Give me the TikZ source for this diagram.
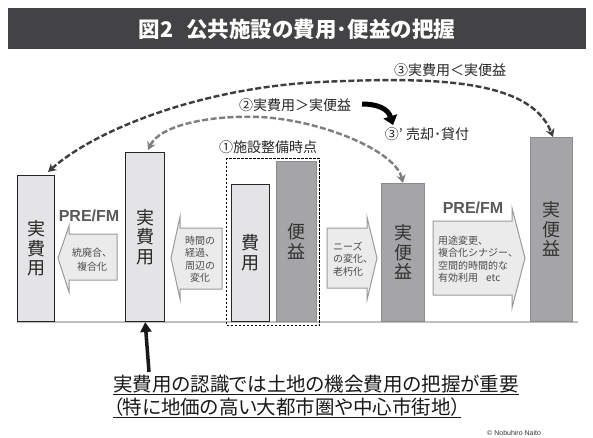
\documentclass[tikz,border=0pt]{standalone}
\usepackage{fontspec}
\newfontfamily\jp{Noto Sans CJK JP}
\newfontfamily\jpp{Noto Sans CJK JP}[RawFeature=+palt]
\newfontfamily\lsans{Liberation Sans}
\usetikzlibrary{arrows.meta}
\definecolor{titlebg}{HTML}{434345}
\definecolor{lightfill}{HTML}{E4E4E6}
\definecolor{darkfill}{HTML}{A5A5A8}
\definecolor{darkedge}{HTML}{8C8C8F}
\definecolor{arrfill}{HTML}{EBEBEC}
\definecolor{arredge}{HTML}{9A9A9C}
\definecolor{outercurve}{HTML}{3E3E40}
\definecolor{innercurve}{HTML}{7E7E80}
\begin{document}
\begin{tikzpicture}[x=1pt,y=-1pt,
  lbar/.style={draw=black!85, line width=1.3pt, fill=lightfill, anchor=south west, inner sep=0pt,
    font=\jp\fontsize{18}{19.5}\selectfont, align=center, text=black!85},
  dbar/.style={draw=darkedge, line width=1.3pt, fill=darkfill, anchor=south west, inner sep=0pt,
    font=\jp\fontsize{18}{19.5}\selectfont, align=center, text=black!80},
  blockarr/.style={draw=arredge, fill=arrfill, line width=1pt, line join=miter},
  arrtxt/.style={font=\jp\fontsize{10}{12.5}\selectfont, text=black!70, inner sep=0pt},
  lbl/.style={font=\jp\fontsize{14}{16}\selectfont, text=black!85, inner sep=0pt},
  prefm/.style={font=\lsans\bfseries\fontsize{16}{18}\selectfont, text=black!65, inner sep=0pt},
  dcurve/.style={line width=2.4pt, dash pattern=on 6pt off 2.5pt,
    {Stealth[length=8pt,width=9pt,inset=2.5pt]}-{Stealth[length=8pt,width=9pt,inset=2.5pt]}},
  bigtxt/.style={font=\jpp\fontsize{19.5}{23}\selectfont, text=black!90, inner sep=0pt, anchor=base west}
]
\useasboundingbox (0,0) rectangle (593,437);
\fill[white] (0,0) rectangle (593,437);

% title
\node[fill=titlebg, minimum width=578pt, minimum height=41pt, anchor=north west, inner sep=0pt] (titlebar) at (8,8) {};
\node[font=\jp\bfseries\fontsize{21.5}{24}\selectfont, text=white, inner sep=0pt] (title) at (297,29) {図2\hspace{0.6em}公共施設の費用･便益の把握};

% baseline
\coordinate (gl) at (17,322);
\coordinate (gr) at (578,322);
\draw[black!25, line width=1.5pt] (gl) -- (gr);

% dashed frame
\node[draw=black, line width=1pt, dash pattern=on 2.5pt off 1.5pt, minimum width=93pt, minimum height=167pt, anchor=north west, inner sep=0pt] (frame) at (226,158) {};

% bars
\node[lbar, minimum width=37pt, minimum height=146pt] (b1) at (17,322) {実\\費\\用};
\node[lbar, minimum width=39pt, minimum height=169pt] (b2) at (125,322) {実\\費\\用};
\node[lbar, minimum width=38pt, minimum height=137pt] (b3) at (231,322) {費\\用};
\node[dbar, minimum width=40pt, minimum height=160pt] (b4) at (276,322) {便\\益};
\node[dbar, minimum width=43pt, minimum height=138pt] (b5) at (381,322) {実\\便\\益};
\node[dbar, minimum width=42pt, minimum height=184pt] (b6) at (530,322) {実\\便\\益};

% block arrows
\draw[blockarr] (58,258) -- (69,226) -- (69,234) -- (117,234) -- (117,280) -- (69,280) -- (69,292) -- cycle;
\draw[blockarr] (171,258) -- (180,217) -- (180,228) -- (222,228) -- (222,289) -- (180,289) -- (180,299) -- cycle;
\draw[blockarr] (327,228) -- (367,228) -- (367,217) -- (377,258) -- (367,300) -- (367,288) -- (327,288) -- cycle;
\draw[blockarr] (433,221) -- (512,221) -- (512,208) -- (525,258) -- (512,308) -- (512,295) -- (433,295) -- cycle;

\node[arrtxt, align=center] (t1) at (92,260) {統廃合、\\[1.5pt]複合化};
\node[arrtxt, align=center] (t2) at (200,259) {時間の\\経過、\\周辺の\\変化};
\node[arrtxt, align=left, anchor=west] (t3) at (333,259) {ニーズ\\の変化、\\老朽化};
\node[arrtxt, align=left, anchor=west] (t4) at (438,259) {用途変更、\\複合化シナジー、\\空間的時間的な\\有効利用\hspace{0.8em}etc};

\node[prefm] (pf1) at (89,216) {PRE/FM};
\node[prefm] (pf2) at (473,208) {PRE/FM};

% labels
\node[lbl] (l1) at (268,147) {①施設整備時点};
\node[lbl] (l2) at (295,105) {②実費用＞実便益};
\node[lbl] (l3) at (450,70) {③実費用＜実便益};
\node[lbl] (l4) at (427,134) {③’\hspace{0.25em}売却･貸付};

% dashed curves
\coordinate (c3a) at (48,172);
\coordinate (c3b) at (553,137);
\coordinate (c3m) at (320,82);
\draw[dcurve, draw=outercurve, color=outercurve] (c3a) .. controls (95,130) and (200,88) .. (c3m) .. controls (430,77) and (530,78) .. (c3b);
\coordinate (c2a) at (148,150);
\coordinate (c2b) at (403,183);
\coordinate (c2m) at (260,117);
\draw[dcurve, draw=innercurve, color=innercurve] (c2a) .. controls (160,125) and (210,115) .. (c2m) .. controls (320,120) and (395,150) .. (c2b);

% black curved arrow
\coordinate (ka) at (362,104);
\coordinate (kb) at (393,125);
\draw[line width=5pt, -{Triangle[length=9pt,width=14pt]}] (ka) .. controls (378,104) and (388,109) .. (kb);

% vertical arrow
\coordinate (va) at (149,372);
\draw[line width=3.5pt, black!90, -{Triangle[length=10pt,width=11pt]}] (va) -- (b2.south);

% bottom text
\node[bigtxt] (bt1) at (113,391) {\underline{実費用の認識では土地の機会費用の把握が重要}};
\node[bigtxt] (bt2) at (113,414) {\underline{（特に地価の高い大都市圏や中心市街地）}};

\node[font=\lsans\fontsize{7}{9}\selectfont, text=black!80, anchor=base west, inner sep=0pt] (copy) at (487,435) {© Nobuhiro Naito};
\end{tikzpicture}
\end{document}
